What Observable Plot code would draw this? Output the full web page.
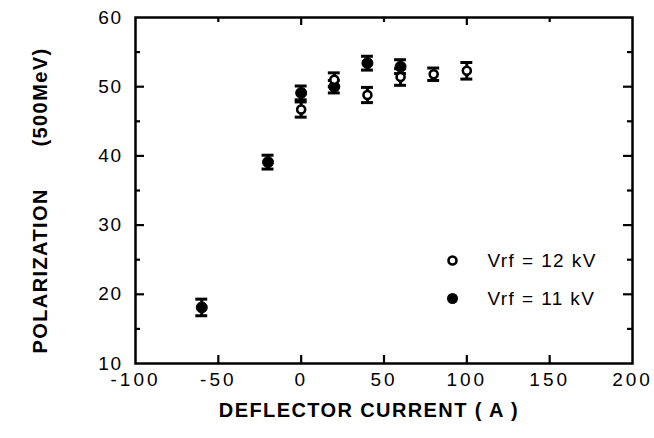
<!DOCTYPE html>
<html>
<head>
<meta charset="utf-8">
<script src="https://cdn.jsdelivr.net/npm/d3@7"></script>
<script src="https://cdn.jsdelivr.net/npm/@observablehq/plot@0.6"></script>
<style>
  html, body { margin: 0; padding: 0; background: #fff; }
  #chart { width: 654px; height: 438px; }
</style>
</head>
<body>
<div id="chart"></div>
<script>
// Data
const current12 = [0, 20, 40, 60, 80, 100];
const pol12     = [46.7, 51.0, 48.8, 51.4, 51.8, 52.3];
const err12     = [1.1, 1.0, 1.1, 1.2, 0.9, 1.2];

const current11 = [-60, -20, 0, 20, 40, 60];
const pol11     = [18.1, 39.1, 49.1, 50.0, 53.4, 52.9];
const err11     = [1.2, 1.0, 1.0, 0.9, 1.0, 1.0];

const xTicks = [-100, -50, 0, 50, 100, 150, 200];
const yTicks = [10, 20, 30, 40, 50, 60];
const yMinor = [15, 25, 35, 45, 55];
const xTopMajor = [0, 100];
const xTopMinor = [-50, 50, 150];

const seriesLabels = ["Vrf = 12 kV", "Vrf = 11 kV"];
const xLabel = "DEFLECTOR CURRENT ( A )";
const yLabel = "POLARIZATION      (500MeV)";

const s12 = current12.map((x, i) => ({x, y: pol12[i], e: err12[i]}));
const s11 = current11.map((x, i) => ({x, y: pol11[i], e: err11[i]}));
const all = s11.concat(s12);

const W = 654, H = 438;
const mL = 135, mR = 22, mT = 17, mB = 75;
const iW = W - mL - mR, iH = H - mT - mB;
const capHalf = 3.6; // in x units

const font = "'Liberation Sans', Arial, Helvetica, sans-serif";

const svg = Plot.plot({
  width: W, height: H,
  marginLeft: mL, marginRight: mR, marginTop: mT, marginBottom: mB,
  style: {fontFamily: font, background: "#fff", color: "#000"},
  x: {domain: [-100, 200]},
  y: {domain: [10, 60]},
  marks: [
    // inward ticks
    Plot.tickX(xTicks.slice(1, -1), {x: d => d, insetTop: iH - 8, strokeWidth: 2.2}),
    Plot.tickX(xTopMajor, {x: d => d, insetBottom: iH - 8, strokeWidth: 2.2}),
    Plot.tickX(xTopMinor, {x: d => d, insetBottom: iH - 5, strokeWidth: 2.2}),
    Plot.tickY(yTicks.slice(1, -1), {y: d => d, insetRight: iW - 9, strokeWidth: 2.2}),
    Plot.tickY(yMinor, {y: d => d, insetRight: iW - 5, strokeWidth: 2.2}),
    Plot.tickY(yTicks.slice(1, -1), {y: d => d, insetLeft: iW - 9, strokeWidth: 2.2}),
    Plot.tickY(yMinor, {y: d => d, insetLeft: iW - 5, strokeWidth: 2.2}),
    Plot.frame({stroke: "#000", strokeWidth: 2.5}),
    Plot.axisX({ticks: xTicks, tickSize: 0, tickPadding: 9, fontSize: 19, label: null, tickFormat: d => String(d)}),
    Plot.axisY({ticks: yTicks, tickSize: 0, tickPadding: 13, fontSize: 19, label: null}),
    // error bars
    Plot.ruleX(all, {x: "x", y1: d => d.y - d.e, y2: d => d.y + d.e, stroke: "#000", strokeWidth: 3}),
    Plot.ruleY(all, {y: d => d.y + d.e, x1: d => d.x - capHalf, x2: d => d.x + capHalf, stroke: "#000", strokeWidth: 3}),
    Plot.ruleY(all, {y: d => d.y - d.e, x1: d => d.x - capHalf, x2: d => d.x + capHalf, stroke: "#000", strokeWidth: 3}),
    // markers
    Plot.dot(s11, {x: "x", y: "y", r: 5.5, fill: "#000", stroke: "#000", strokeWidth: 1}),
    Plot.dot(s12, {x: "x", y: "y", r: 4, fill: "#fff", stroke: "#000", strokeWidth: 2.6}),
    // legend
    Plot.dot([seriesLabels[0]], {frameAnchor: "top-left", dx: 317, dy: 243, r: 4, fill: "#fff", stroke: "#000", strokeWidth: 2.6}),
    Plot.dot([seriesLabels[1]], {frameAnchor: "top-left", dx: 317, dy: 281, r: 5.5, fill: "#000"}),
    Plot.text([seriesLabels[0]], {frameAnchor: "top-left", dx: 352, dy: 243, text: d => d, textAnchor: "start", lineAnchor: "middle", fontSize: 19, fill: "#000"}),
    Plot.text([seriesLabels[1]], {frameAnchor: "top-left", dx: 352, dy: 281, text: d => d, textAnchor: "start", lineAnchor: "middle", fontSize: 19, fill: "#000"}),
    // axis titles
    Plot.text([xLabel], {frameAnchor: "bottom", dx: -15, dy: 47, text: d => d, textAnchor: "middle", lineAnchor: "middle", fontSize: 20, fontWeight: "bold", fill: "#000"}),
    Plot.text([yLabel], {frameAnchor: "left", dx: -95, dy: 10, rotate: -90, text: d => d, textAnchor: "middle", lineAnchor: "middle", fontSize: 20, fontWeight: "bold", fill: "#000"})
  ]
});

const s = d3.select(svg);
s.selectAll('g[aria-label="x-axis tick label"] text').style("letter-spacing", "3px");
s.selectAll('g[aria-label="y-axis tick label"] text').style("letter-spacing", "1.5px");
s.selectAll('g[aria-label="text"] text').style("white-space", "pre").style("letter-spacing", "1.4px");
document.getElementById("chart").appendChild(svg);
</script>
</body>
</html>
